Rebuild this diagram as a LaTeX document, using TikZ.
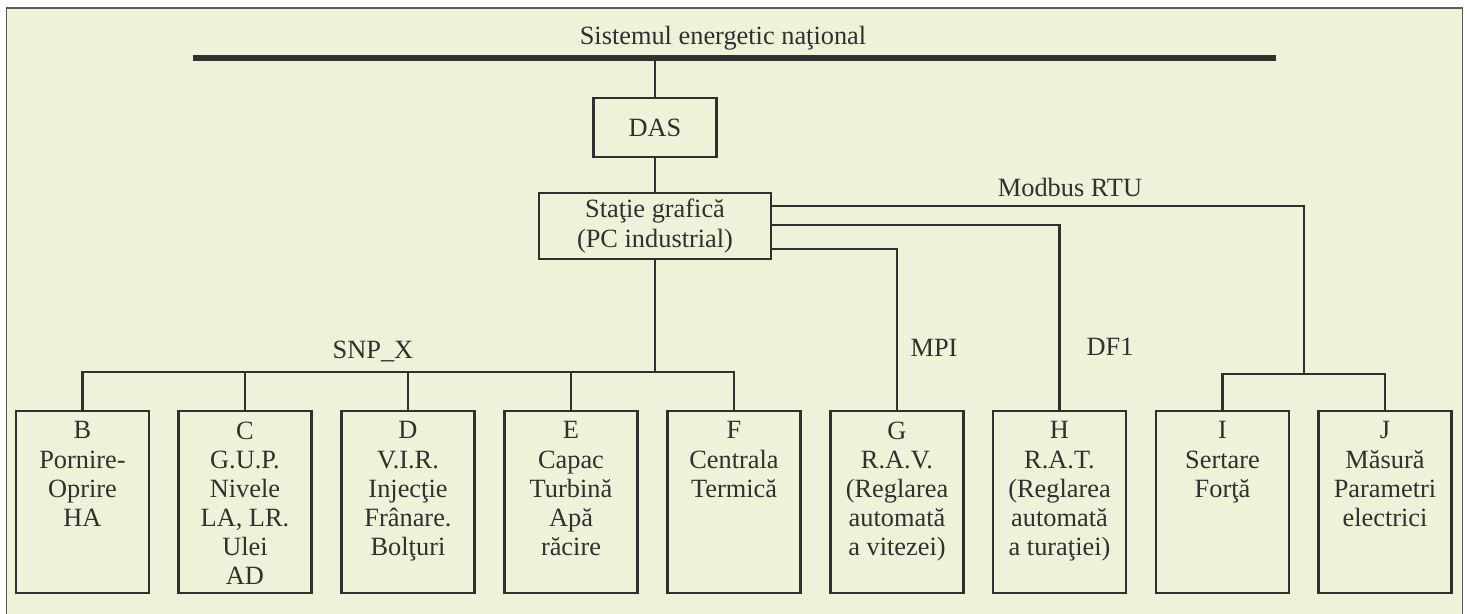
\documentclass[tikz,border=0pt]{standalone}
\usepackage{fontspec}
\setmainfont{Liberation Serif}
\definecolor{panel}{HTML}{EEF2D8}
\definecolor{ink}{HTML}{303030}
\definecolor{rim}{HTML}{5A5A5A}

\begin{document}
\begin{tikzpicture}[
    font=\fontsize{15}{16.6}\selectfont,
    every node/.style={text=ink},
    wire/.style={draw=ink, line width=1.4pt},
    busline/.style={draw=ink, line width=3.4pt},
    block/.style={draw=ink, line width=1.4pt, align=center, inner sep=0pt},
    unit/.style={draw=ink, line width=1.4pt, minimum width=2.66cm, minimum height=3.64cm, inner sep=0pt},
    unittext/.style={anchor=north, align=center, inner sep=0pt, yshift=-0.23cm},
    tag/.style={anchor=base, inner sep=0pt}
]
% fundal si chenar
\clip (0,0) rectangle (29.38,12.28);
\fill[white] (0,0) rectangle (29.38,12.28);
\draw[draw=rim, fill=panel, line width=0.9pt] (0.13,-0.5) rectangle (29.25,12.12);

% bara SEN
\coordinate (busL) at (3.86,11.12);
\coordinate (busR) at (25.52,11.12);
\draw[busline] (busL) -- (busR);
\node[tag] (sen) at (14.46,11.38) {Sistemul energetic naţional};

% DAS si statia grafica
\node[block, minimum width=2.46cm, minimum height=1.18cm] (das) at (13.10,9.73) {DAS};
\node[block, minimum width=4.64cm, minimum height=1.32cm] (st) at (13.10,7.76) {Staţie grafică\\(PC industrial)};
\draw[wire] (das.north) -- (das.north |- busL);
\draw[wire] (das) -- (st);

% echipamente
\foreach \n/\x/\txt in {
    B/1.65/{B\\Pornire-\\Oprire\\HA},
    C/4.90/{C\\G.U.P.\\Nivele\\LA, LR.\\Ulei\\AD},
    D/8.16/{D\\V.I.R.\\Injecţie\\Frânare.\\Bolţuri},
    E/11.42/{E\\Capac\\Turbină\\Apă\\răcire},
    F/14.68/{F\\Centrala\\Termică},
    G/17.94/{G\\R.A.V.\\(Reglarea\\automată\\a vitezei)},
    H/21.19/{H\\R.A.T.\\(Reglarea\\automată\\a turaţiei)},
    I/24.45/{I\\Sertare\\Forţă},
    J/27.70/{J\\Măsură\\Parametri\\electrici}%
}{
    \node[unit] (\n) at (\x, 2.24) {};
    \node[unittext] (t\n) at (\n.north) {\txt};
}

% magistrala SNP_X
\coordinate (snp) at ([yshift=0.76cm]st.south |- B.north);
\draw[wire] (st.south) -- (snp);
\draw[wire] (B.north) |- (snp) -| (F.north);
\foreach \n in {C,D,E} \draw[wire] (\n.north) -- (\n.north |- snp);

% MPI, DF1, Modbus RTU
\draw[wire] ([yshift=-0.46cm]st.east) -| (G.north);
\draw[wire] ([yshift=0.02cm]st.east) -| (H.north);
\coordinate (ij) at (26.08,4.80);
\draw[wire] ([yshift=0.40cm]st.east) -| (ij);
\draw[wire] (I.north) |- (ij) -| (J.north);

% etichete
\node[tag] (snpx) at (7.46,5.10) {SNP\_X};
\node[tag] (mpi) at (18.68,5.14) {MPI};
\node[tag] (df1) at (22.20,5.16) {DF1};
\node[tag] (rtu) at (21.40,8.34) {Modbus RTU};
\end{tikzpicture}
\end{document}
